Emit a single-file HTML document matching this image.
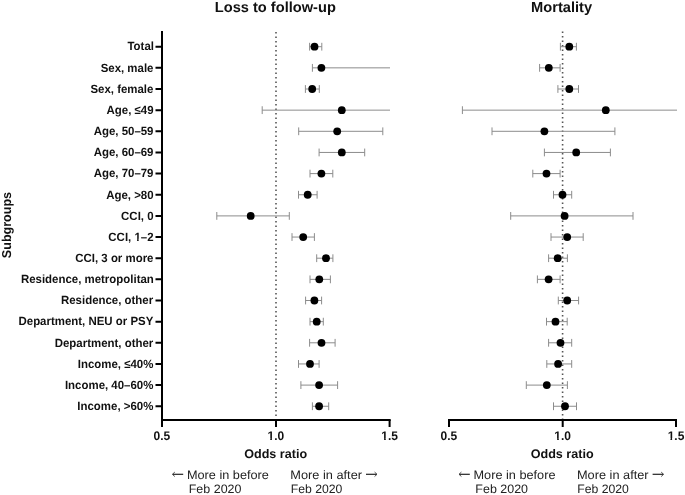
<!DOCTYPE html>
<html><head><meta charset="utf-8"><title>Forest plot</title>
<style>
html,body{margin:0;padding:0;background:#fff;width:685px;height:495px;overflow:hidden;}
svg{display:block;will-change:transform;text-rendering:geometricPrecision;}
text{font-family:"Liberation Sans",sans-serif;}
</style></head><body>
<svg width="685" height="495" viewBox="0 0 685 495">
<text transform="translate(214.80,12.1) scale(1.0021,1)" font-weight="bold" font-size="14.6" fill="#111">Loss to follow-up</text>
<text transform="translate(531.10,11.8) scale(1.0025,1)" font-weight="bold" font-size="14.6" fill="#111">Mortality</text>
<text transform="translate(10.7,258.13) rotate(-90) scale(0.9722,1)" font-weight="bold" font-size="12.9" fill="#111">Subgroups</text>
<text transform="translate(127.48,50.45) scale(0.9622,1)" font-weight="bold" font-size="11.9" fill="#111">Total</text>
<text transform="translate(100.66,71.60) scale(0.9622,1)" font-weight="bold" font-size="11.9" fill="#111">Sex, male</text>
<text transform="translate(90.44,92.75) scale(0.9622,1)" font-weight="bold" font-size="11.9" fill="#111">Sex, female</text>
<text transform="translate(106.55,113.90) scale(0.9622,1)" font-weight="bold" font-size="11.9" fill="#111">Age, ≤49</text>
<text transform="translate(93.69,135.05) scale(0.9622,1)" font-weight="bold" font-size="11.9" fill="#111">Age, 50–59</text>
<text transform="translate(93.69,156.20) scale(0.9622,1)" font-weight="bold" font-size="11.9" fill="#111">Age, 60–69</text>
<text transform="translate(93.69,177.35) scale(0.9622,1)" font-weight="bold" font-size="11.9" fill="#111">Age, 70–79</text>
<text transform="translate(106.19,198.50) scale(0.9622,1)" font-weight="bold" font-size="11.9" fill="#111">Age, &gt;80</text>
<text transform="translate(121.11,219.65) scale(0.9622,1)" font-weight="bold" font-size="11.9" fill="#111">CCI, 0</text>
<text transform="translate(108.36,240.80) scale(0.9622,1)" font-weight="bold" font-size="11.9" fill="#111">CCI, 1–2</text>
<text transform="translate(75.28,261.95) scale(0.9622,1)" font-weight="bold" font-size="11.9" fill="#111">CCI, 3 or more</text>
<text transform="translate(20.92,283.10) scale(0.9622,1)" font-weight="bold" font-size="11.9" fill="#111">Residence, metropolitan</text>
<text transform="translate(60.97,304.25) scale(0.9622,1)" font-weight="bold" font-size="11.9" fill="#111">Residence, other</text>
<text transform="translate(18.51,325.40) scale(0.9622,1)" font-weight="bold" font-size="11.9" fill="#111">Department, NEU or PSY</text>
<text transform="translate(54.72,346.55) scale(0.9622,1)" font-weight="bold" font-size="11.9" fill="#111">Department, other</text>
<text transform="translate(77.81,367.70) scale(0.9622,1)" font-weight="bold" font-size="11.9" fill="#111">Income, ≤40%</text>
<text transform="translate(64.94,388.85) scale(0.9622,1)" font-weight="bold" font-size="11.9" fill="#111">Income, 40–60%</text>
<text transform="translate(77.33,410.00) scale(0.9622,1)" font-weight="bold" font-size="11.9" fill="#111">Income, &gt;60%</text>
<g transform="translate(108.36,240.80) scale(0.9622,1)"><path d="M26.73 -2.01H29.84V0.60H26.73ZM31.51 -2.01H34.37V0.60H31.51Z" fill="#fff"/></g>
<line x1="276" y1="31.9" x2="276" y2="419" stroke="#555" stroke-width="1.6" stroke-dasharray="1.5 3"/>
<line x1="562.6" y1="31.5" x2="562.6" y2="419" stroke="#555" stroke-width="1.6" stroke-dasharray="1.5 3"/>
<path d="M309.6 46.70H321.8M309.6 42.80V50.60M321.8 42.80V50.60" stroke="#8c8c8c" stroke-width="1" fill="none"/>
<path d="M312.4 67.85H390.0M312.4 63.95V71.75" stroke="#8c8c8c" stroke-width="1" fill="none"/>
<path d="M305.4 89.00H319.3M305.4 85.10V92.90M319.3 85.10V92.90" stroke="#8c8c8c" stroke-width="1" fill="none"/>
<path d="M262.2 110.15H390.0M262.2 106.25V114.05" stroke="#8c8c8c" stroke-width="1" fill="none"/>
<path d="M298.7 131.30H382.8M298.7 127.40V135.20M382.8 127.40V135.20" stroke="#8c8c8c" stroke-width="1" fill="none"/>
<path d="M319.1 152.45H364.7M319.1 148.55V156.35M364.7 148.55V156.35" stroke="#8c8c8c" stroke-width="1" fill="none"/>
<path d="M310 173.60H332.8M310 169.70V177.50M332.8 169.70V177.50" stroke="#8c8c8c" stroke-width="1" fill="none"/>
<path d="M298.5 194.75H317.1M298.5 190.85V198.65M317.1 190.85V198.65" stroke="#8c8c8c" stroke-width="1" fill="none"/>
<path d="M216.8 215.90H289.3M216.8 212.00V219.80M289.3 212.00V219.80" stroke="#8c8c8c" stroke-width="1" fill="none"/>
<path d="M292 237.05H314.4M292 233.15V240.95M314.4 233.15V240.95" stroke="#8c8c8c" stroke-width="1" fill="none"/>
<path d="M316.7 258.20H332.9M316.7 254.30V262.10M332.9 254.30V262.10" stroke="#8c8c8c" stroke-width="1" fill="none"/>
<path d="M310 279.35H330.4M310 275.45V283.25M330.4 275.45V283.25" stroke="#8c8c8c" stroke-width="1" fill="none"/>
<path d="M305.6 300.50H321.6M305.6 296.60V304.40M321.6 296.60V304.40" stroke="#8c8c8c" stroke-width="1" fill="none"/>
<path d="M310 321.65H323.3M310 317.75V325.55M323.3 317.75V325.55" stroke="#8c8c8c" stroke-width="1" fill="none"/>
<path d="M309.6 342.80H335.1M309.6 338.90V346.70M335.1 338.90V346.70" stroke="#8c8c8c" stroke-width="1" fill="none"/>
<path d="M298.5 363.95H319.1M298.5 360.05V367.85M319.1 360.05V367.85" stroke="#8c8c8c" stroke-width="1" fill="none"/>
<path d="M300.9 385.10H337.6M300.9 381.20V389.00M337.6 381.20V389.00" stroke="#8c8c8c" stroke-width="1" fill="none"/>
<path d="M312.4 406.25H328.7M312.4 402.35V410.15M328.7 402.35V410.15" stroke="#8c8c8c" stroke-width="1" fill="none"/>
<circle cx="314.5" cy="46.70" r="3.9" fill="#000"/>
<circle cx="321.4" cy="67.85" r="3.9" fill="#000"/>
<circle cx="312.2" cy="89.00" r="3.9" fill="#000"/>
<circle cx="341.8" cy="110.15" r="3.9" fill="#000"/>
<circle cx="337.2" cy="131.30" r="3.9" fill="#000"/>
<circle cx="341.8" cy="152.45" r="3.9" fill="#000"/>
<circle cx="321.4" cy="173.60" r="3.9" fill="#000"/>
<circle cx="307.7" cy="194.75" r="3.9" fill="#000"/>
<circle cx="250.7" cy="215.90" r="3.9" fill="#000"/>
<circle cx="303.2" cy="237.05" r="3.9" fill="#000"/>
<circle cx="326" cy="258.20" r="3.9" fill="#000"/>
<circle cx="319.3" cy="279.35" r="3.9" fill="#000"/>
<circle cx="314.4" cy="300.50" r="3.9" fill="#000"/>
<circle cx="316.7" cy="321.65" r="3.9" fill="#000"/>
<circle cx="321.5" cy="342.80" r="3.9" fill="#000"/>
<circle cx="310" cy="363.95" r="3.9" fill="#000"/>
<circle cx="319.1" cy="385.10" r="3.9" fill="#000"/>
<circle cx="319.1" cy="406.25" r="3.9" fill="#000"/>
<path d="M560.4 46.70H576.4M560.4 42.80V50.60M576.4 42.80V50.60" stroke="#8c8c8c" stroke-width="1" fill="none"/>
<path d="M539.6 67.85H560.1M539.6 63.95V71.75M560.1 63.95V71.75" stroke="#8c8c8c" stroke-width="1" fill="none"/>
<path d="M557.9 89.00H578.5M557.9 85.10V92.90M578.5 85.10V92.90" stroke="#8c8c8c" stroke-width="1" fill="none"/>
<path d="M462.4 110.15H677.0M462.4 106.25V114.05" stroke="#8c8c8c" stroke-width="1" fill="none"/>
<path d="M492 131.30H614.9M492 127.40V135.20M614.9 127.40V135.20" stroke="#8c8c8c" stroke-width="1" fill="none"/>
<path d="M544.4 152.45H610.4M544.4 148.55V156.35M610.4 148.55V156.35" stroke="#8c8c8c" stroke-width="1" fill="none"/>
<path d="M532.8 173.60H560.1M532.8 169.70V177.50M560.1 169.70V177.50" stroke="#8c8c8c" stroke-width="1" fill="none"/>
<path d="M553.5 194.75H571.7M553.5 190.85V198.65M571.7 190.85V198.65" stroke="#8c8c8c" stroke-width="1" fill="none"/>
<path d="M510.7 215.90H633M510.7 212.00V219.80M633 212.00V219.80" stroke="#8c8c8c" stroke-width="1" fill="none"/>
<path d="M551 237.05H583.2M551 233.15V240.95M583.2 233.15V240.95" stroke="#8c8c8c" stroke-width="1" fill="none"/>
<path d="M548.6 258.20H567.4M548.6 254.30V262.10M567.4 254.30V262.10" stroke="#8c8c8c" stroke-width="1" fill="none"/>
<path d="M537.4 279.35H560.1M537.4 275.45V283.25M560.1 275.45V283.25" stroke="#8c8c8c" stroke-width="1" fill="none"/>
<path d="M558.3 300.50H578.6M558.3 296.60V304.40M578.6 296.60V304.40" stroke="#8c8c8c" stroke-width="1" fill="none"/>
<path d="M546.5 321.65H567.2M546.5 317.75V325.55M567.2 317.75V325.55" stroke="#8c8c8c" stroke-width="1" fill="none"/>
<path d="M548.6 342.80H571.7M548.6 338.90V346.70M571.7 338.90V346.70" stroke="#8c8c8c" stroke-width="1" fill="none"/>
<path d="M546.8 363.95H571.7M546.8 360.05V367.85M571.7 360.05V367.85" stroke="#8c8c8c" stroke-width="1" fill="none"/>
<path d="M526.3 385.10H567.4M526.3 381.20V389.00M567.4 381.20V389.00" stroke="#8c8c8c" stroke-width="1" fill="none"/>
<path d="M553.5 406.25H576.5M553.5 402.35V410.15M576.5 402.35V410.15" stroke="#8c8c8c" stroke-width="1" fill="none"/>
<circle cx="569.3" cy="46.70" r="3.9" fill="#000"/>
<circle cx="548.8" cy="67.85" r="3.9" fill="#000"/>
<circle cx="569.3" cy="89.00" r="3.9" fill="#000"/>
<circle cx="605.8" cy="110.15" r="3.9" fill="#000"/>
<circle cx="544.4" cy="131.30" r="3.9" fill="#000"/>
<circle cx="576.2" cy="152.45" r="3.9" fill="#000"/>
<circle cx="546.5" cy="173.60" r="3.9" fill="#000"/>
<circle cx="562.5" cy="194.75" r="3.9" fill="#000"/>
<circle cx="564.6" cy="215.90" r="3.9" fill="#000"/>
<circle cx="567.2" cy="237.05" r="3.9" fill="#000"/>
<circle cx="557.7" cy="258.20" r="3.9" fill="#000"/>
<circle cx="548.6" cy="279.35" r="3.9" fill="#000"/>
<circle cx="567.2" cy="300.50" r="3.9" fill="#000"/>
<circle cx="555.5" cy="321.65" r="3.9" fill="#000"/>
<circle cx="560.5" cy="342.80" r="3.9" fill="#000"/>
<circle cx="558.1" cy="363.95" r="3.9" fill="#000"/>
<circle cx="546.8" cy="385.10" r="3.9" fill="#000"/>
<circle cx="565" cy="406.25" r="3.9" fill="#000"/>
<path d="M162 31 V420 H390.7" fill="none" stroke="#000" stroke-width="2"/>
<path d="M155.5 46.70H162M155.5 67.85H162M155.5 89.00H162M155.5 110.15H162M155.5 131.30H162M155.5 152.45H162M155.5 173.60H162M155.5 194.75H162M155.5 215.90H162M155.5 237.05H162M155.5 258.20H162M155.5 279.35H162M155.5 300.50H162M155.5 321.65H162M155.5 342.80H162M155.5 363.95H162M155.5 385.10H162M155.5 406.25H162" stroke="#000" stroke-width="2"/>
<path d="M162 420V427M276 420V427M389.6 420V427" stroke="#000" stroke-width="2"/>
<path d="M448 420 H677" fill="none" stroke="#000" stroke-width="2"/>
<path d="M449 420V427M562.7 420V427M676 420V427" stroke="#000" stroke-width="2"/>
<g transform="translate(161.9,440) scale(0.9600,1)"><text x="0" y="0" text-anchor="middle" font-weight="bold" font-size="12.5" fill="#111">0.5</text>
</g>
<g transform="translate(275.8,440) scale(0.9600,1)"><text x="0" y="0" text-anchor="middle" font-weight="bold" font-size="12.5" fill="#111">1.0</text>
<path d="M-8.30 -2.08H-5.79V0.60H-8.30ZM-4.04 -2.08H-1.78V0.60H-4.04Z" fill="#fff"/>
</g>
<g transform="translate(389.65,440) scale(0.9600,1)"><text x="0" y="0" text-anchor="middle" font-weight="bold" font-size="12.5" fill="#111">1.5</text>
<path d="M-8.30 -2.08H-5.79V0.60H-8.30ZM-4.04 -2.08H-1.78V0.60H-4.04Z" fill="#fff"/>
</g>
<g transform="translate(448.8,440) scale(0.9600,1)"><text x="0" y="0" text-anchor="middle" font-weight="bold" font-size="12.5" fill="#111">0.5</text>
</g>
<g transform="translate(562.7,440) scale(0.9600,1)"><text x="0" y="0" text-anchor="middle" font-weight="bold" font-size="12.5" fill="#111">1.0</text>
<path d="M-8.30 -2.08H-5.79V0.60H-8.30ZM-4.04 -2.08H-1.78V0.60H-4.04Z" fill="#fff"/>
</g>
<g transform="translate(676,440) scale(0.9600,1)"><text x="0" y="0" text-anchor="middle" font-weight="bold" font-size="12.5" fill="#111">1.5</text>
<path d="M-8.30 -2.08H-5.79V0.60H-8.30ZM-4.04 -2.08H-1.78V0.60H-4.04Z" fill="#fff"/>
</g>
<text transform="translate(244.20,458.3) scale(1.0065,1)" font-weight="bold" font-size="12.5" fill="#111">Odds ratio</text>
<text transform="translate(530.70,458.3) scale(1.0065,1)" font-weight="bold" font-size="12.5" fill="#111">Odds ratio</text>
<text transform="translate(186.94,478.6) scale(1.0423,1)" font-weight="normal" font-size="12.2" fill="#222">More in before</text>
<text transform="translate(188.76,492.6) scale(1.0226,1)" font-weight="normal" font-size="12.2" fill="#222">Feb 2020</text>
<text transform="translate(290.34,478.6) scale(1.0472,1)" font-weight="normal" font-size="12.2" fill="#222">More in after</text>
<text transform="translate(290.68,492.6) scale(1.0026,1)" font-weight="normal" font-size="12.2" fill="#222">Feb 2020</text>
<path d="M183.2 474.3H172.8" stroke="#222" stroke-width="1.2" fill="none"/>
<path d="M174.8 472.1L172.4 474.3L174.8 476.5" stroke="#222" stroke-width="0.8" fill="none"/>
<path d="M366 474.3H376.6" stroke="#222" stroke-width="1.2" fill="none"/>
<path d="M374.6 472.1L377 474.3L374.6 476.5" stroke="#222" stroke-width="0.8" fill="none"/>
<text transform="translate(473.54,478.6) scale(1.0423,1)" font-weight="normal" font-size="12.2" fill="#222">More in before</text>
<text transform="translate(475.36,492.6) scale(1.0226,1)" font-weight="normal" font-size="12.2" fill="#222">Feb 2020</text>
<text transform="translate(576.94,478.6) scale(1.0472,1)" font-weight="normal" font-size="12.2" fill="#222">More in after</text>
<text transform="translate(577.28,492.6) scale(1.0026,1)" font-weight="normal" font-size="12.2" fill="#222">Feb 2020</text>
<path d="M469.8 474.3H459.40000000000003" stroke="#222" stroke-width="1.2" fill="none"/>
<path d="M461.40000000000003 472.1L459.0 474.3L461.40000000000003 476.5" stroke="#222" stroke-width="0.8" fill="none"/>
<path d="M652.6 474.3H663.2" stroke="#222" stroke-width="1.2" fill="none"/>
<path d="M661.2 472.1L663.6 474.3L661.2 476.5" stroke="#222" stroke-width="0.8" fill="none"/>
</svg>
</body></html>
